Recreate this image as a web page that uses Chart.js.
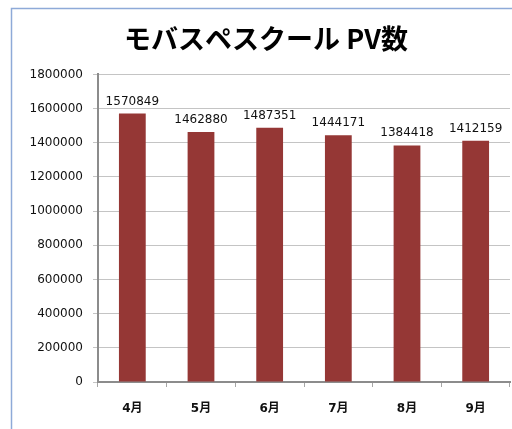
<!DOCTYPE html>
<html>
<head>
<meta charset="utf-8">
<script src="https://cdn.jsdelivr.net/npm/chart.js@4"></script>
<style>
  html, body { margin: 0; padding: 0; background: #fff; }
  #wrap { width: 512px; height: 429px; position: relative; }
</style>
</head>
<body>
<div id="wrap"><canvas id="pv"></canvas></div>
<script>
const months = ["4月", "5月", "6月", "7月", "8月", "9月"];
const pageViews = [1570849, 1462880, 1487351, 1444171, 1384418, 1412159];
const yMax = 1800000;
const yStep = 200000;

const numFont = "'DejaVu Sans', 'Noto Sans CJK JP', sans-serif";

// frame of the original spreadsheet chart
const frame = {
  id: "frame",
  beforeDraw(chart) {
    const c = chart.ctx;
    c.save();
    c.strokeStyle = "#8eaad8";
    c.lineWidth = 1.5;
    c.beginPath();
    c.moveTo(11.5, 440);
    c.lineTo(11.5, 8.5);
    c.lineTo(520, 8.5);
    c.stroke();
    c.restore();
  },
};

// value labels above the bars
const valueLabels = {
  id: "valueLabels",
  afterDatasetsDraw(chart) {
    const c = chart.ctx;
    const meta = chart.getDatasetMeta(0);
    c.save();
    c.font = "12px " + numFont;
    c.fillStyle = "#111";
    c.textAlign = "center";
    c.textBaseline = "alphabetic";
    meta.data.forEach((bar, i) => {
      c.fillText(String(pageViews[i]), bar.x, bar.y - 9);
    });
    c.restore();
  },
};

new Chart(document.getElementById("pv"), {
  type: "bar",
  data: {
    labels: months,
    datasets: [
      {
        label: "PV",
        data: pageViews,
        backgroundColor: "#953735",
        categoryPercentage: 1,
        barPercentage: 0.39,
      },
    ],
  },
  plugins: [frame, valueLabels],
  options: {
    responsive: true,
    maintainAspectRatio: false,
    animation: false,
    layout: { padding: { left: 22, right: 2, top: 0, bottom: 0 } },
    plugins: {
      legend: { display: false },
      tooltip: { enabled: false },
      title: {
        display: true,
        text: "モバスペスクール PV数",
        color: "#000",
        font: { family: "'Noto Sans CJK JP', sans-serif", size: 27, weight: "bold" },
        padding: { top: 23, bottom: 19 },
      },
    },
    scales: {
      x: {
        afterFit: (s) => { s.height = 47; },
        border: { color: "#8c8c8c", width: 2 },
        grid: { drawOnChartArea: false, drawTicks: true, tickLength: 5, color: "#a6a6a6", offset: true },
        ticks: {
          color: "#111",
          padding: 15,
          font: { family: numFont, size: 12, weight: "bold" },
        },
      },
      y: {
        min: 0,
        max: yMax,
        afterFit: (s) => { s.width = 76; },
        border: { color: "#8c8c8c", width: 2 },
        grid: { color: "#c4c4c4", lineWidth: 1, tickLength: 5 },
        ticks: {
          stepSize: yStep,
          color: "#111",
          padding: 10,
          font: { family: numFont, size: 12 },
          callback: (v) => String(v),
        },
      },
    },
  },
});
</script>
</body>
</html>
